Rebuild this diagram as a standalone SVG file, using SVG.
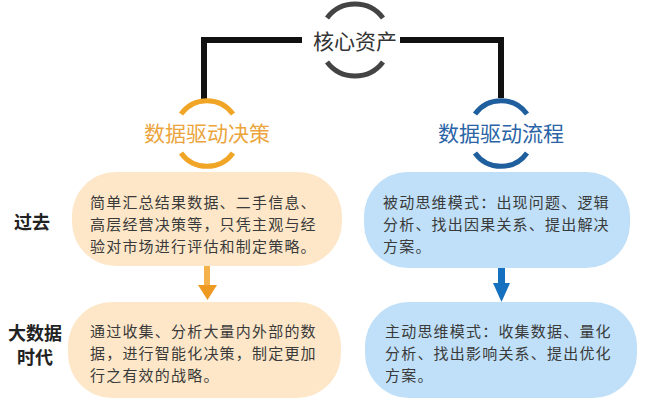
<svg xmlns="http://www.w3.org/2000/svg" width="647" height="404" viewBox="0 0 647 404">
<style>
.t{font-family:"Noto Sans CJK SC","Liberation Sans",sans-serif;font-size:15px;letter-spacing:1.2px;fill:#3a3a3a}
.lab{font-family:"Noto Sans CJK SC","Liberation Sans",sans-serif;font-size:18px;font-weight:bold;fill:#222;text-anchor:middle}
.h{font-family:"Noto Sans CJK SC","Liberation Sans",sans-serif;font-size:21px;text-anchor:middle}
.arc{fill:none;stroke-width:5;stroke-linecap:butt}
.peach{fill:#FDE7C8}
.blue{fill:#BFE0F8}
</style>
<rect width="647" height="404" fill="#fff"/>
<g id="connectors">
<path d="M302 40 H204 V102" fill="none" stroke="#111" stroke-width="6"/>
<path d="M400 40 H501 V98" fill="none" stroke="#111" stroke-width="6"/>
<g id="arrow-left">
<rect x="204" y="266" width="6" height="21" fill="#F5B24A"/>
<path d="M198 285 H217 L207.5 300 Z" fill="#EE9A22"/>
</g>
<g id="arrow-right">
<rect x="498" y="268" width="7" height="16" fill="#1670C0"/>
<path d="M493 283 H510 L501.5 302 Z" fill="#1670C0"/>
</g>
</g>
<g id="core">
<path class="arc" stroke="#444" d="M327 18 A35 35 0 0 1 383 18"/>
<path class="arc" stroke="#444" d="M327 62 A35 35 0 0 0 383 62"/>
<text class="h" x="355" y="49" fill="#333">核心资产</text>
</g>
<g id="decision">
<path class="arc" stroke="#F0A526" d="M181 114 A32 32 0 0 1 233 114"/>
<path class="arc" stroke="#F0A526" d="M181 153 A32 32 0 0 0 233 153"/>
<text class="h" x="207" y="141" fill="#EBA53C">数据驱动决策</text>
</g>
<g id="process">
<path class="arc" stroke="#1F5F9E" d="M475 114 A32 32 0 0 1 527 114"/>
<path class="arc" stroke="#1F5F9E" d="M475 153 A32 32 0 0 0 527 153"/>
<text class="h" x="501" y="141" fill="#2A64A6">数据驱动流程</text>
</g>
<g id="label-past"><text class="lab" x="32" y="229">过去</text></g>
<g id="label-bigdata"><text class="lab" x="35" y="340">大数据</text><text class="lab" x="35" y="364">时代</text></g>
<g id="past-decision">
<rect class="peach" x="72" y="172" width="270" height="94" rx="44"/>
<text class="t"><tspan x="90" y="207.5">简单汇总结果数据、二手信息、</tspan><tspan x="90" y="229.5">高层经营决策等，只凭主观与经</tspan><tspan x="90" y="251.5">验对市场进行评估和制定策略。</tspan></text>
</g>
<g id="past-process">
<rect class="blue" x="364" y="172" width="266" height="96" rx="44"/>
<text class="t"><tspan x="383" y="208">被动思维模式：出现问题、逻辑</tspan><tspan x="383" y="230">分析、找出因果关系、提出解决</tspan><tspan x="383" y="252">方案。</tspan></text>
</g>
<g id="bigdata-decision">
<rect class="peach" x="68" y="302" width="273" height="96" rx="44"/>
<text class="t"><tspan x="90" y="337">通过收集、分析大量内外部的数</tspan><tspan x="90" y="359">据，进行智能化决策，制定更加</tspan><tspan x="90" y="381">行之有效的战略。</tspan></text>
</g>
<g id="bigdata-process">
<rect class="blue" x="365" y="302" width="272" height="96" rx="44"/>
<text class="t"><tspan x="385" y="337">主动思维模式：收集数据、量化</tspan><tspan x="385" y="359">分析、找出影响关系、提出优化</tspan><tspan x="385" y="381">方案。</tspan></text>
</g>
</svg>
